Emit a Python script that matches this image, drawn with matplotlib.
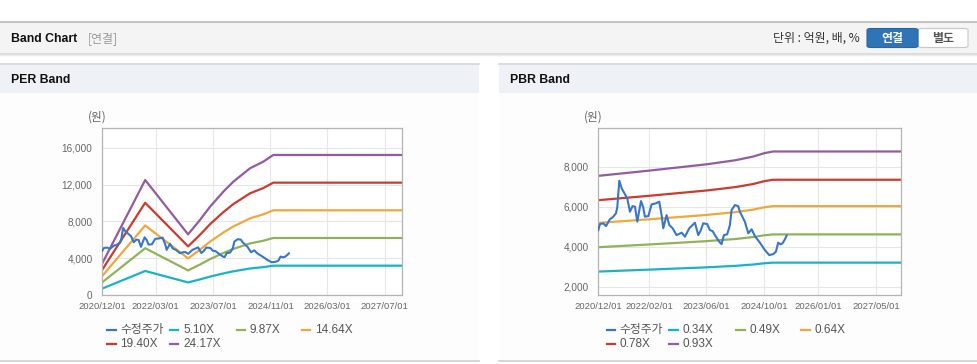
import matplotlib
matplotlib.use("Agg")
import numpy as np
import pandas as pd
import matplotlib.pyplot as plt
from matplotlib.patches import Rectangle, FancyBboxPatch
from matplotlib.lines import Line2D

W, H = 978, 364
KR = ["Noto Sans CJK KR", "DejaVu Sans"]
LAT = ["Liberation Sans", "DejaVu Sans"]

# --- data ----------------------------------------------------------------
price_dates = [
    "2020-12-01", "2020-12-15", "2021-01-12", "2021-02-04", "2021-03-09",
    "2021-04-06", "2021-04-29", "2021-05-10", "2021-05-27", "2021-06-16",
    "2021-07-14", "2021-08-02", "2021-08-25", "2021-09-16", "2021-10-06",
    "2021-10-26", "2021-11-12", "2021-11-26", "2021-12-15", "2021-12-29",
    "2022-01-27", "2022-02-24", "2022-04-01", "2022-04-29", "2022-05-19",
    "2022-06-02", "2022-06-16", "2022-06-30", "2022-07-23", "2022-08-20",
    "2022-09-22", "2022-11-04", "2022-12-02", "2023-01-07", "2023-02-24",
    "2023-03-24", "2023-04-13", "2023-05-05", "2023-06-08", "2023-06-30",
    "2023-07-23", "2023-08-20", "2023-09-17", "2023-10-07", "2023-10-26",
    "2023-11-23", "2023-12-16", "2023-12-30", "2024-01-27", "2024-02-24",
    "2024-03-09", "2024-04-20", "2024-05-19", "2024-06-16", "2024-07-14",
    "2024-08-25", "2024-10-06", "2024-11-12", "2024-12-15", "2025-01-07",
    "2025-01-26", "2025-02-15", "2025-03-04", "2025-03-24", "2025-04-07",
]
price_values = [
    4830, 5130, 5170, 5030, 5370,
    5500, 5670, 5970, 7300, 6920,
    6620, 6420, 5750, 6030, 6000,
    5250, 5830, 6280, 5970, 5500,
    5530, 6120, 6170, 6250, 5580,
    4920, 5250, 5580, 5080, 4920,
    4580, 4700, 4500, 4920, 5200,
    4580, 4800, 5170, 5130, 4830,
    4780, 4500, 4250, 4130, 4580,
    4620, 5080, 5830, 6080, 6030,
    5750, 5250, 4670, 4870, 4530,
    4200, 3830, 3580, 3630, 3750,
    4200, 4120, 4170, 4370, 4550,
]

eps_dates = ["2020-12-01", "2021-12-01", "2022-12-01", "2023-03-12", "2023-06-06",
             "2023-09-27", "2023-12-21", "2024-05-11", "2024-09-01", "2024-11-25",
             "2027-11-28"]
eps_values = [143.4, 517.0, 273.4, 337.7, 397.4,
              464.6, 509.5, 569.6, 599.2, 629.3,
              629.3]
per_multiples = [5.10, 9.87, 14.64, 19.40, 24.17]

bps_dates = ["2020-12-01", "2022-02-01", "2023-06-01", "2024-02-01", "2024-07-01",
             "2024-10-01", "2024-12-15", "2027-11-28"]
bps_values = [8110, 8390, 8730, 8950, 9150,
              9330, 9420, 9420]
pbr_multiples = [0.34, 0.49, 0.64, 0.78, 0.93]

per_xticks = ["2020/12/01", "2022/03/01", "2023/07/01", "2024/11/01", "2026/03/01", "2027/07/01"]
pbr_xticks = ["2020/12/01", "2022/02/01", "2023/06/01", "2024/10/01", "2026/01/01", "2027/05/01"]
per_yticks = [0, 4000, 8000, 12000, 16000]
pbr_yticks = [2000, 4000, 6000, 8000]

PRICE_COLOR = "#3877c8"
BAND_COLORS = ["#19b3c6", "#8fb356", "#f0a83c", "#cd3a2e", "#935ba0"]
X_START, X_END = "2020-12-01", "2027-11-28"


def fx(x):
    return x / W


def fy(y):
    return 1 - y / H


def rect(fig, x0, y0, x1, y1, color, z=0):
    fig.add_artist(Rectangle((fx(x0), fy(y1)), (x1 - x0) / W, (y1 - y0) / H,
                             transform=fig.transFigure, facecolor=color,
                             edgecolor="none", zorder=z))


def hline(fig, x0, x1, y, color, lw=1.0):
    fig.add_artist(Line2D([fx(x0), fx(x1)], [fy(y), fy(y)], transform=fig.transFigure,
                          color=color, lw=lw))


def draw_band(fig, ax, base_dates, base_values, multiples, ylim, yticks, xticks):
    d = pd.to_datetime(base_dates)
    base = np.array(base_values, dtype=float)
    ax.plot(pd.to_datetime(price_dates), price_values, color=PRICE_COLOR, lw=1.5, zorder=3)
    for m, c in zip(multiples, BAND_COLORS):
        ax.plot(d, base * m, color=c, lw=1.6, zorder=2)

    ax.set_xlim(pd.Timestamp(X_START), pd.Timestamp(X_END))
    ax.set_ylim(*ylim)
    ax.set_yticks(yticks)
    ax.set_yticklabels([f"{v:,}" for v in yticks], family=LAT, fontsize=7.2, color="#666666")
    ax.set_xticks(pd.to_datetime(xticks))
    ax.set_xticklabels(xticks, family=LAT, fontsize=6.8, color="#666666")
    ax.tick_params(length=0, pad=5)
    ax.tick_params(axis="y", pad=7)
    ax.grid(True, color="#e6e6e6", lw=0.8, zorder=0)
    ax.set_axisbelow(True)
    for s in ax.spines.values():
        s.set_color("#b4b4b4")
        s.set_linewidth(0.9)


def draw_legend(fig, x_off, labels):
    cols = [107.3, 170.0, 236.7, 301.7]
    rows = [330, 344]
    entries = [("수정주가", PRICE_COLOR)] + list(zip(labels, BAND_COLORS))
    for i, (lab, c) in enumerate(entries):
        r, k = divmod(i, 4)
        x = cols[k] + x_off
        y = rows[r]
        fig.add_artist(Line2D([fx(x), fx(x + 8.5)], [fy(y), fy(y)],
                              transform=fig.transFigure, color=c, lw=1.6))
        fig.text(fx(x + 13), fy(y), lab, family=KR if i == 0 else LAT,
                 fontsize=8.5, color="#555555", va="center", ha="left")


fig = plt.figure(figsize=(W / 100, H / 100), dpi=100, facecolor="white")

# top header bar
rect(fig, 0, 22, W, 53, "#f4f4f4")
hline(fig, 0, W, 22, "#c4c4c4", lw=1.5)
hline(fig, 0, W, 53.5, "#d6d6d6", lw=1.2)
hline(fig, 0, W, 55, "#ececec", lw=1.0)
fig.text(fx(11), fy(38.5), "Band Chart", family=LAT, fontweight="bold",
         fontsize=8.8, color="#111111", va="center")
fig.text(fx(88), fy(38.5), "[연결]", family=KR, fontsize=8.6, color="#999999", va="center")
fig.text(fx(860), fy(38.5), "단위 : 억원, 배, %", family=KR, fontsize=8.6,
         color="#333333", va="center", ha="right")
fig.add_artist(FancyBboxPatch((fx(918), fy(47.5)), 50 / W, 19 / H,
                              boxstyle="round,pad=0,rounding_size=0.004",
                              transform=fig.transFigure, facecolor="white",
                              edgecolor="#c8c8c8", lw=0.8))
fig.add_artist(FancyBboxPatch((fx(867), fy(47.5)), 51 / W, 19 / H,
                              boxstyle="round,pad=0,rounding_size=0.004",
                              transform=fig.transFigure, facecolor="#3074b8",
                              edgecolor="#2a66a5", lw=0.8))
fig.text(fx(892.5), fy(38.5), "연결", family=KR, fontsize=8.6, fontweight="bold",
         color="white", va="center", ha="center")
fig.text(fx(943), fy(38.5), "별도", family=KR, fontsize=8.6, fontweight="bold",
         color="#555555", va="center", ha="center")

# panels
for x0, x1, title in [(0, 479, "PER Band"), (499, W, "PBR Band")]:
    rect(fig, x0, 64, x1, 93, "#eef1f6")
    rect(fig, x0, 93, x1, 360, "#fdfdfd")
    hline(fig, x0, x1, 63.5, "#d4d6da", lw=1.2)
    hline(fig, x0, x1, 360.5, "#cfcfcf", lw=1.2)
    fig.text(fx(x0 + 11), fy(80), title, family=LAT, fontweight="bold",
             fontsize=8.8, color="#111111", va="center")

ax1 = fig.add_axes([fx(102.3), fy(295.3), 300 / W, 167 / H])
draw_band(fig, ax1, eps_dates, eps_values, per_multiples, (0, 18100), per_yticks, per_xticks)
fig.text(fx(97.5), fy(117.5), "(원)", family=KR, fontsize=8.4, color="#666666",
         va="center", ha="center")
draw_legend(fig, 0, [f"{m:.2f}X" for m in per_multiples])

ax2 = fig.add_axes([fx(598.3), fy(295.3), 302.7 / W, 167 / H])
draw_band(fig, ax2, bps_dates, bps_values, pbr_multiples, (1570, 9920), pbr_yticks, pbr_xticks)
fig.text(fx(593), fy(117.5), "(원)", family=KR, fontsize=8.4, color="#666666",
         va="center", ha="center")
draw_legend(fig, 499.4, [f"{m:.2f}X" for m in pbr_multiples])

fig.savefig("out.png", dpi=100, facecolor="white")
